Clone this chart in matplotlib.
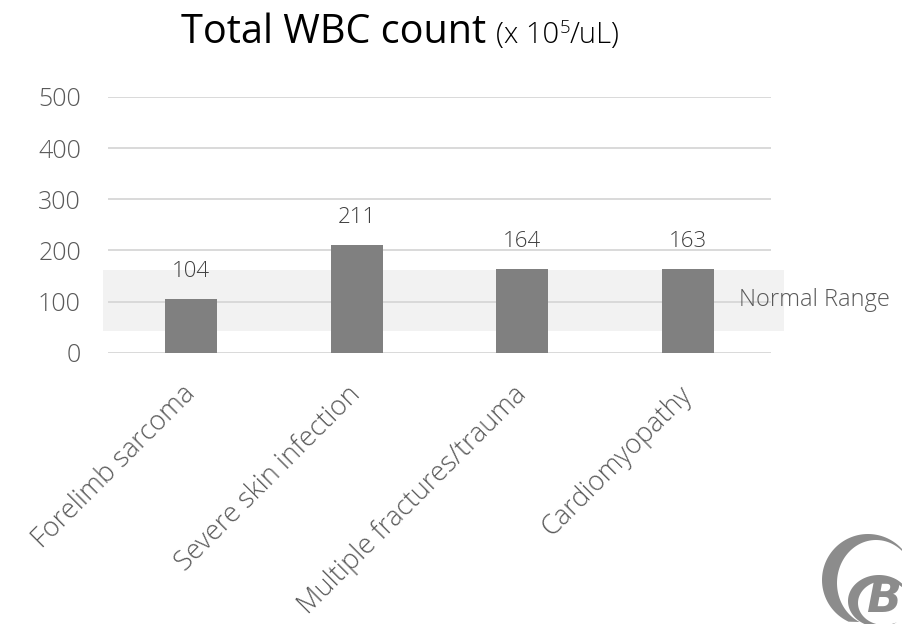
import matplotlib.pyplot as plt
import numpy as np
from matplotlib.patches import Polygon

plt.rcParams['font.family'] = ['Open Sans', 'DejaVu Sans']

categories = ['Forelimb sarcoma', 'Severe skin infection',
              'Multiple fractures/trauma', 'Cardiomyopathy']
wbc = [104, 211, 164, 163]
normal_range = (43, 162)
y_ticks = [0, 100, 200, 300, 400, 500]

GRID = '#d9d9d9'
BAND = '#f2f2f2'
BAR = '#808080'
LABEL = '#595959'

fig = plt.figure(figsize=(9.02, 6.24), dpi=100)
ax = fig.add_axes([0.1197, 0.4348, 0.7350, 0.4098])

x = np.arange(len(categories))
ax.set_xlim(-0.5, len(categories) - 0.5)
ax.set_ylim(0, 500)

# shaded normal range, runs a little past the plot on both sides
ax.fill_between([-0.53, 3.58], normal_range[0], normal_range[1],
                color=BAND, lw=0, zorder=0.2, clip_on=False)
ax.text(3.31, sum(normal_range) / 2, 'Normal Range', color=LABEL,
        fontsize=17, fontweight='light', va='center', ha='left')

bars = ax.bar(x, wbc, width=0.314, color=BAR, zorder=2)
for xi, v in zip(x, wbc):
    ax.annotate(str(v), (xi, v), xytext=(0, 16), textcoords='offset points',
                ha='center', va='baseline', fontsize=16, color='#404040',
                fontweight='light')

ax.set_yticks(y_ticks)
ax.yaxis.grid(True, color=GRID, lw=1.4)
ax.set_axisbelow(True)
for s in ax.spines.values():
    s.set_visible(False)
ax.tick_params(axis='y', length=0, pad=19.5, labelsize=18, labelcolor=LABEL)
ax.tick_params(axis='x', length=0, pad=27, labelsize=19.5, labelcolor=LABEL)
ax.set_xticks(x)
ax.set_xticklabels(categories, rotation=45, ha='right', va='center',
                   rotation_mode='anchor')
for lbl in ax.get_xticklabels() + ax.get_yticklabels():
    lbl.set_fontweight('light')

# title: main part, then smaller units with a raised exponent
fig.canvas.draw()
r = fig.canvas.get_renderer()
ty = 1 - 43 / 624
t1 = fig.text(181 / 902, ty, 'Total WBC count ', fontsize=28.5, va='baseline')
x1 = t1.get_window_extent(r).x1
t2 = fig.text(x1 / 902, ty, '(x 10', fontsize=21, va='baseline',
              fontweight='light')
x2 = t2.get_window_extent(r).x1
t3 = fig.text(x2 / 902, ty + 10 / 624, '5', fontsize=13.5, va='baseline',
              fontweight='light')
x3 = t3.get_window_extent(r).x1
fig.text(x3 / 902, ty, '/uL)', fontsize=21, va='baseline', fontweight='light')

# logo in the bottom right corner, drawn in pixel space
lg = fig.add_axes([0, 0, 1, 1], zorder=-1)
lg.set_xlim(0, 902)
lg.set_ylim(624, 0)
lg.axis('off')


def crescent(c_out, r_out, c_in, r_in, t0, t1):
    t = np.radians(np.linspace(t0, t1, 80))
    outer = np.c_[c_out[0] + r_out[0] * np.cos(t), c_out[1] - r_out[1] * np.sin(t)]
    inner = np.c_[c_in[0] + r_in[0] * np.cos(t[::-1]), c_in[1] - r_in[1] * np.sin(t[::-1])]
    return Polygon(np.vstack([outer, inner]), closed=True, color='#8c8c8c', lw=0)


lg.add_patch(crescent((868, 580), (46, 46), (876, 583), (39, 43), 15, 245))
lg.add_patch(crescent((879, 601), (31, 26), (884, 603), (26, 22), 40, 300))
fig.text(866 / 902, 1 - 612 / 624, 'B', fontsize=33, fontweight='bold',
         fontstyle='italic', color='#8c8c8c', va='baseline',
         family='DejaVu Sans')

fig.savefig('out.png', dpi=100)
